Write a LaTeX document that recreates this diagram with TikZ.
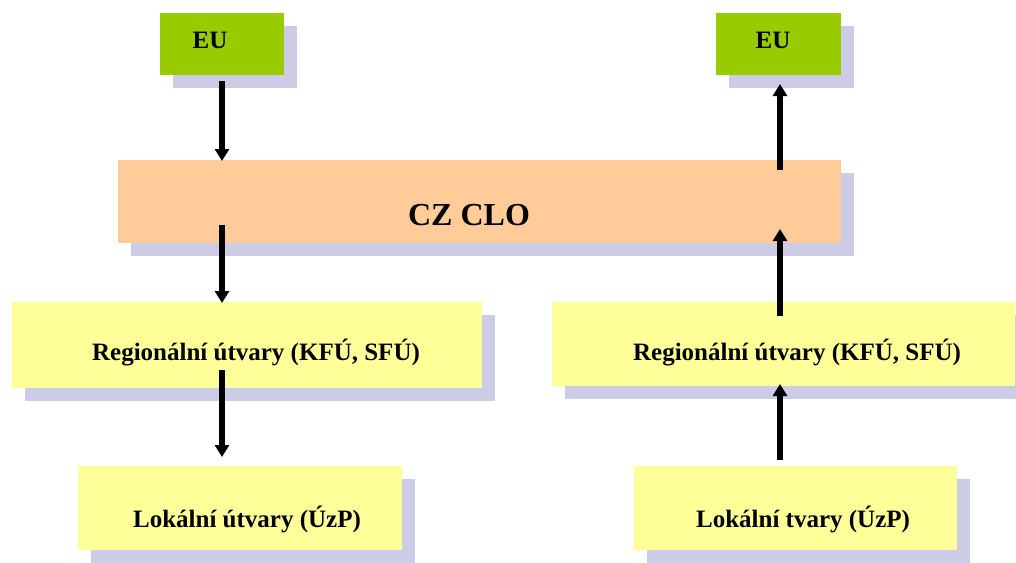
\documentclass[tikz,border=0pt]{standalone}
\usepackage{fontspec}
\setmainfont{Liberation Serif}
\usepackage{xcolor}
\usetikzlibrary{shadows,arrows.meta}

\definecolor{eugreen}{RGB}{153,204,0}
\definecolor{cloorange}{RGB}{255,204,153}
\definecolor{utyellow}{RGB}{255,255,153}
\definecolor{shadowgray}{RGB}{204,204,230}

\tikzset{
  box/.style={fill=#1, inner sep=0pt,
    drop shadow={shadow xshift=13pt, shadow yshift=-13pt, fill=shadowgray, opacity=1}},
  txt/.style={font=\fontsize{25}{30}\selectfont\bfseries, inner sep=0pt},
  arr/.style={line width=5.5pt, -{Triangle[width=14pt,length=12pt]}}
}

\begin{document}
\begin{tikzpicture}[x=1pt,y=-1pt]
   \useasboundingbox (0,0) rectangle (1016,562);
   \clip (0,0) rectangle (1016,562);
   % boxes
   \node[box=eugreen, minimum width=124pt, minimum height=62pt] (eul) at (222,43.5) {};
   \node[box=eugreen, minimum width=125pt, minimum height=62pt] (eur) at (778.5,43.5) {};
   \node[box=cloorange, minimum width=723pt, minimum height=83pt] (clo) at (479.5,201.5) {};
   \node[box=utyellow, minimum width=470pt, minimum height=86pt] (regl) at (246.5,344.5) {};
   \node[box=utyellow, minimum width=463pt, minimum height=84pt] (regr) at (783.5,343.5) {};
   \node[box=utyellow, minimum width=324pt, minimum height=84pt] (lokl) at (240,508) {};
   \node[box=utyellow, minimum width=323pt, minimum height=84pt] (lokr) at (795.5,508) {};
   % texts
   \node[txt] (teul) at (210,40) {EU};
   \node[txt] (teur) at (773,40) {EU};
   \node[txt, font=\fontsize{32}{38}\selectfont\bfseries] (tclo) at (469,215) {CZ CLO};
   \node[txt] (tregl) at (256,353) {Regionální útvary (KFÚ, SFÚ)};
   \node[txt] (tregr) at (797,353) {Regionální útvary (KFÚ, SFÚ)};
   \node[txt] (tlokl) at (247,519) {Lokální útvary (ÚzP)};
   \node[txt] (tlokr) at (803,519) {Lokální tvary (ÚzP)};
   % arrow ends
   \coordinate (l1) at (222,81);  \coordinate (l2) at (222,161);
   \coordinate (l3) at (222,225); \coordinate (l4) at (222,303);
   \coordinate (l5) at (222,370); \coordinate (l6) at (222,457);
   \coordinate (r1) at (780,460); \coordinate (r2) at (780,384);
   \coordinate (r3) at (780,316); \coordinate (r4) at (780,229);
   \coordinate (r5) at (780,170); \coordinate (r6) at (780,84);
   % arrows
   \draw[arr] (l1) -- (l2);
   \draw[arr] (l3) -- (l4);
   \draw[arr] (l5) -- (l6);
   \draw[arr] (r1) -- (r2);
   \draw[arr] (r3) -- (r4);
   \draw[arr] (r5) -- (r6);
\end{tikzpicture}
\end{document}
